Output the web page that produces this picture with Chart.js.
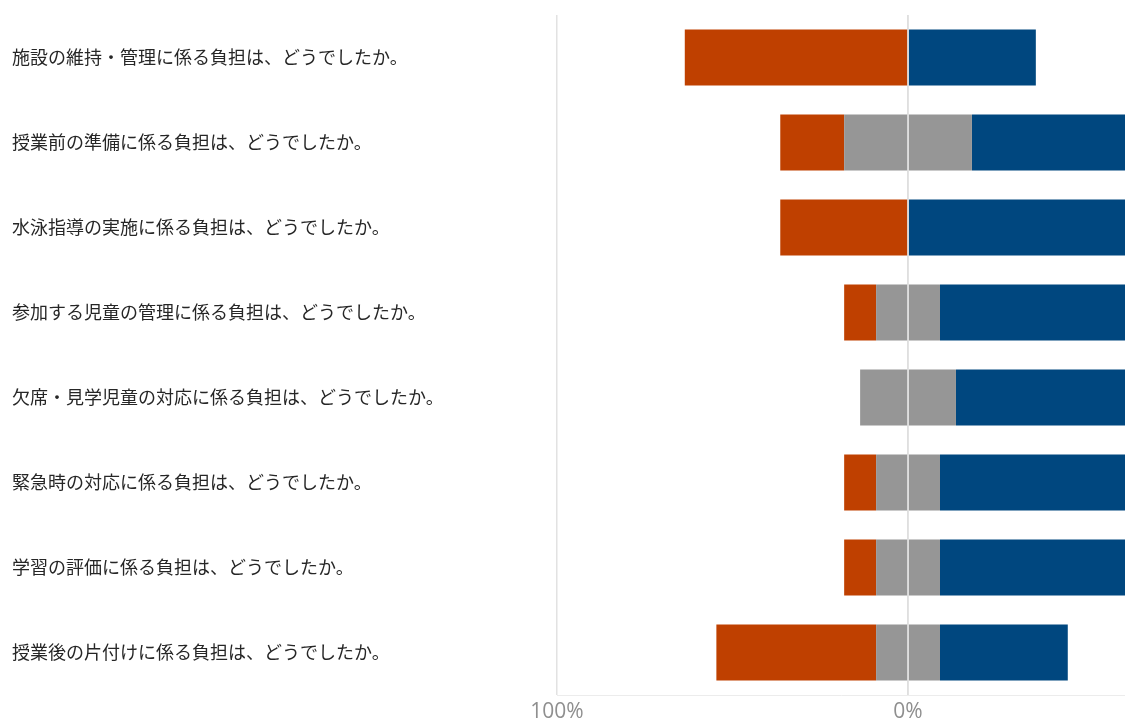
<!DOCTYPE html>
<html>
<head>
<meta charset="utf-8">
<script src="https://cdn.jsdelivr.net/npm/chart.js@4"></script>
<style>
  html, body { margin: 0; padding: 0; background: #ffffff; }
  #wrap { width: 1125px; height: 720px; position: relative; }
</style>
</head>
<body>
<div id="wrap"><canvas id="c"></canvas></div>
<script>
// ---- data ----
const categories = [
  "施設の維持・管理に係る負担は、どうでしたか。",
  "授業前の準備に係る負担は、どうでしたか。",
  "水泳指導の実施に係る負担は、どうでしたか。",
  "参加する児童の管理に係る負担は、どうでしたか。",
  "欠席・見学児童の対応に係る負担は、どうでしたか。",
  "緊急時の対応に係る負担は、どうでしたか。",
  "学習の評価に係る負担は、どうでしたか。",
  "授業後の片付けに係る負担は、どうでしたか。"
];
// percentages (negative side = burden increased, neutral split at 0, positive side = decreased)
const increased = [63.6, 18.2, 36.4, 9.1, 0, 9.1, 9.1, 45.5];
const neutral   = [0, 36.4, 0, 18.2, 27.3, 18.2, 18.2, 18.2];
const decreased = [36.4, 45.5, 63.6, 72.7, 72.7, 72.7, 72.7, 36.4];
const tickValues = [-100, 0];

// ---- build datasets ----
const RED = '#BF4000', GRAY = '#969696', BLUE = '#00477F';
const datasets = [
  { label: 'neutralL', data: neutral.map(v => -v / 2), backgroundColor: GRAY },
  { label: 'increased', data: increased.map(v => -v), backgroundColor: RED },
  { label: 'neutralR', data: neutral.map(v => v / 2), backgroundColor: GRAY },
  { label: 'decreased', data: decreased, backgroundColor: BLUE }
];
datasets.forEach(d => { d.borderWidth = 0; d.barPercentage = 0.66; d.categoryPercentage = 1.0; });

const zeroLine = {
  id: 'zeroLine',
  afterDatasetsDraw(chart) {
    const x = chart.scales.x.getPixelForValue(0);
    const a = chart.chartArea;
    const ctx = chart.ctx;
    ctx.save();
    ctx.strokeStyle = 'rgba(222,222,222,0.9)';
    ctx.lineWidth = 1.5;
    ctx.beginPath();
    ctx.moveTo(x, a.top);
    ctx.lineTo(x, a.bottom);
    ctx.stroke();
    ctx.restore();
  }
};

new Chart(document.getElementById('c'), {
  type: 'bar',
  data: { labels: categories, datasets },
  options: {
    indexAxis: 'y',
    responsive: true,
    maintainAspectRatio: false,
    animation: false,
    layout: { padding: { left: 12, top: 15, right: 0, bottom: 0 } },
    plugins: { legend: { display: false }, tooltip: { enabled: false } },
    scales: {
      x: {
        stacked: true,
        min: -100,
        max: 61.8,
        afterBuildTicks: s => { s.ticks = tickValues.map(v => ({ value: v })); },
        afterFit: s => { s.height = 25; },
        grid: { color: '#e2e2e2', lineWidth: 1.5, drawTicks: false },
        border: { display: true, color: '#ececec', width: 1 },
        ticks: {
          padding: 4,
          color: '#8f8f8f',
          font: { family: 'Open Sans, Noto Sans, sans-serif', size: 21 },
          callback: v => Math.abs(v) + '%'
        }
      },
      y: {
        stacked: true,
        afterFit: s => { s.width = 545; },
        grid: { display: false, drawTicks: false },
        border: { display: false },
        ticks: {
          crossAlign: 'far',
          padding: 0,
          color: '#262626',
          font: { family: '"Noto Sans CJK JP", sans-serif', size: 18 }
        }
      }
    }
  },
  plugins: [zeroLine]
});
</script>
</body>
</html>
